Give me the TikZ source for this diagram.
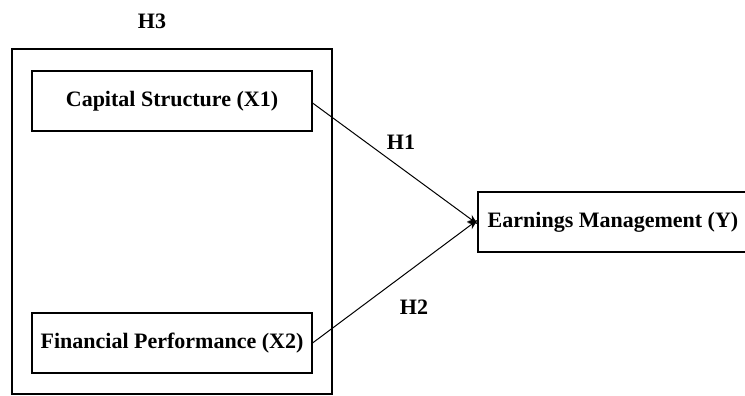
\documentclass[tikz,border=0pt]{standalone}
\usepackage{fontspec}
\setmainfont{Liberation Serif}
\usetikzlibrary{arrows.meta}
\begin{document}
\begin{tikzpicture}[x=1pt,y=-1pt,
  box/.style={draw, line width=1.1pt, inner sep=0pt, font=\bfseries\fontsize{22}{26}\selectfont},
  lbl/.style={font=\bfseries\fontsize{22}{26}\selectfont},
  conn/.style={line width=1pt, -{Stealth[length=10pt,width=8pt]}}]
\useasboundingbox (0,0) rectangle (745,396);
\node[draw, line width=1.1pt, minimum width=320pt, minimum height=345pt, inner sep=0pt] (outer) at (172,221.5) {};
\node[box, minimum width=280pt, minimum height=60pt] (x1) at (172,101) {Capital Structure (X1)};
\node[box, minimum width=280pt, minimum height=60pt] (x2) at (172,343) {Financial Performance (X2)};
\node[box, minimum width=270pt, minimum height=60pt] (y) at (613,222) {Earnings Management (Y)};
\node[lbl] (h3) at (152,21) {H3};
\node[lbl] (h1) at (401,142) {H1};
\node[lbl] (h2) at (414,307) {H2};
\draw[conn] (x1.east) ++(0,2) coordinate (a1) (a1) -- ([yshift=-2pt]y.west);
\draw[conn] (x2.east) -- ([yshift=2pt]y.west);
\end{tikzpicture}
\end{document}
